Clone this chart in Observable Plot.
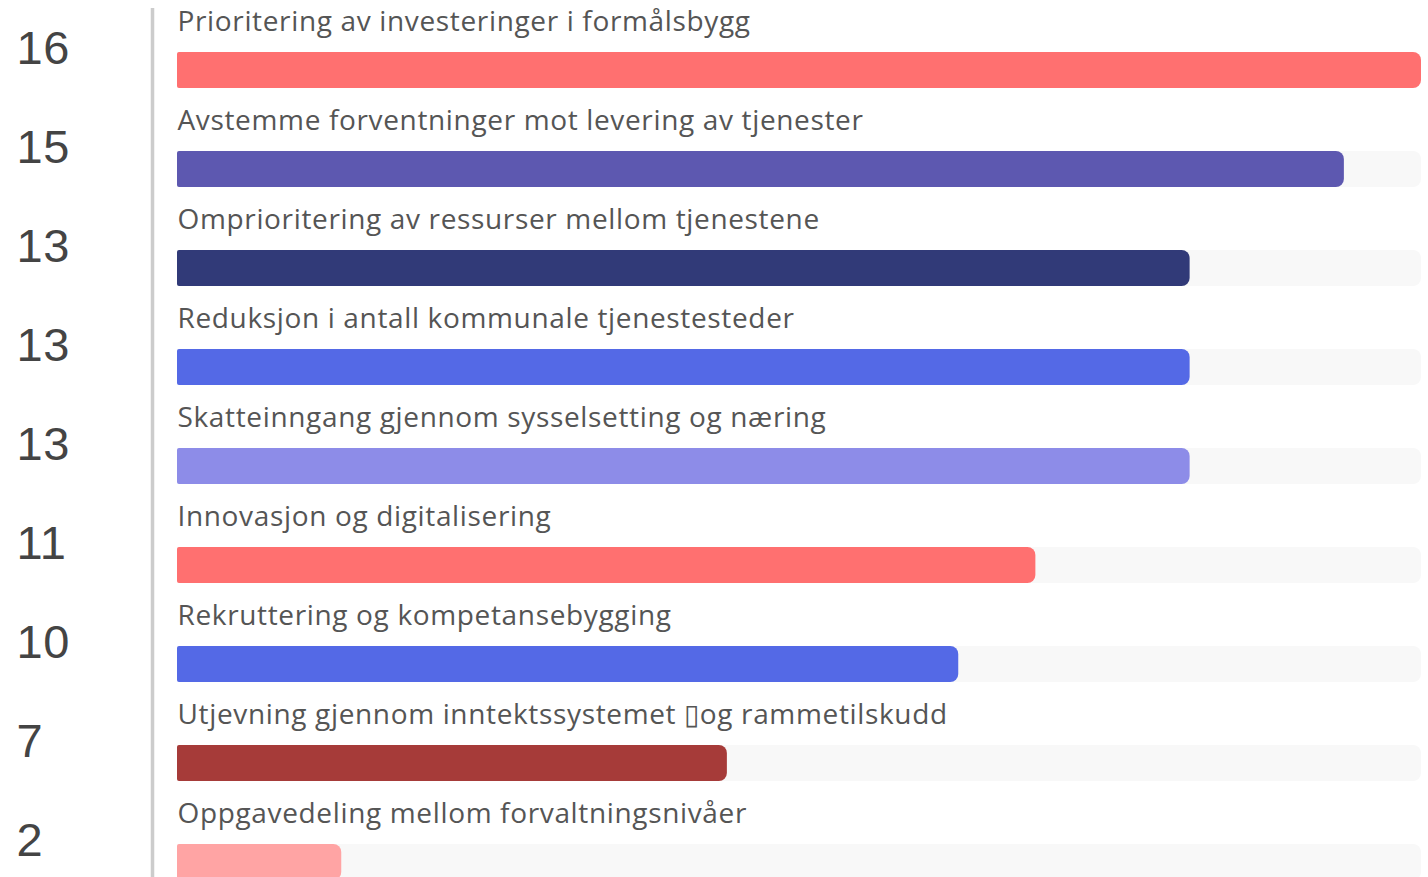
<!DOCTYPE html>
<html>
<head>
<meta charset="utf-8">
<script src="https://cdn.jsdelivr.net/npm/d3@7"></script>
<script src="https://cdn.jsdelivr.net/npm/@observablehq/plot@0.6"></script>
<style>
  html, body { margin: 0; padding: 0; background: #fff; overflow: hidden; }
</style>
</head>
<body>
<div id="chart"></div>
<script>
const categories = [
  "Prioritering av investeringer i formålsbygg",
  "Avstemme forventninger mot levering av tjenester",
  "Omprioritering av ressurser mellom tjenestene",
  "Reduksjon i antall kommunale tjenestesteder",
  "Skatteinngang gjennom sysselsetting og næring",
  "Innovasjon og digitalisering",
  "Rekruttering og kompetansebygging",
  "Utjevning gjennom inntektssystemet \u25AFog rammetilskudd",
  "Oppgavedeling mellom forvaltningsnivåer"
];
const values = [16, 15, 13, 13, 13, 11, 10, 7, 2];
const palette = ["#ff7070", "#5d58b0", "#313a78", "#5469e6", "#8d8ce8", "#ff7070", "#5469e6", "#a63b39", "#ffa4a4"];

const data = categories.map((c, i) => ({category: c, value: values[i], color: palette[i]}));
const maxValue = d3.max(values);

const chart = Plot.plot({
  width: 1428,
  height: 877,
  marginLeft: 187,
  marginRight: 7,
  marginTop: 0,
  marginBottom: 0,
  style: {fontFamily: "'Open Sans', sans-serif", background: "#fff", letterSpacing: "0.65px"},
  x: {domain: [0, maxValue], axis: null},
  y: {domain: categories, range: [0, 891], padding: 0, axis: null},
  marks: [
    Plot.barX(data, {x1: 0, x2: maxValue, y: "category", fill: "#f8f8f8", insetTop: 52, insetBottom: 11, insetLeft: -10, rx1y1: 2, rx1y2: 2, rx2y1: 8, rx2y2: 8}),
    Plot.barX(data, {x1: 0, x2: "value", y: "category", fill: "color", insetTop: 52, insetBottom: 11, insetLeft: -10, rx1y1: 2, rx1y2: 2, rx2y1: 8, rx2y2: 8}),
    Plot.ruleX([0], {dx: -35, stroke: "#cccccc", strokeWidth: 3.5, insetTop: 8}),
    Plot.text(data, {y: "category", text: "category", frameAnchor: "left", textAnchor: "start", lineAnchor: "bottom", dx: -10, dy: -19.5, fontSize: 28, fill: "#555555"}),
    Plot.text(data, {y: "category", text: d => String(d.value), frameAnchor: "left", textAnchor: "start", lineAnchor: "bottom", dx: -171, dy: 13.5, fontSize: 47, fill: "#444444", fontFamily: "'Liberation Sans', Arial, sans-serif"})
  ]
});
document.getElementById("chart").appendChild(chart);
</script>
</body>
</html>
